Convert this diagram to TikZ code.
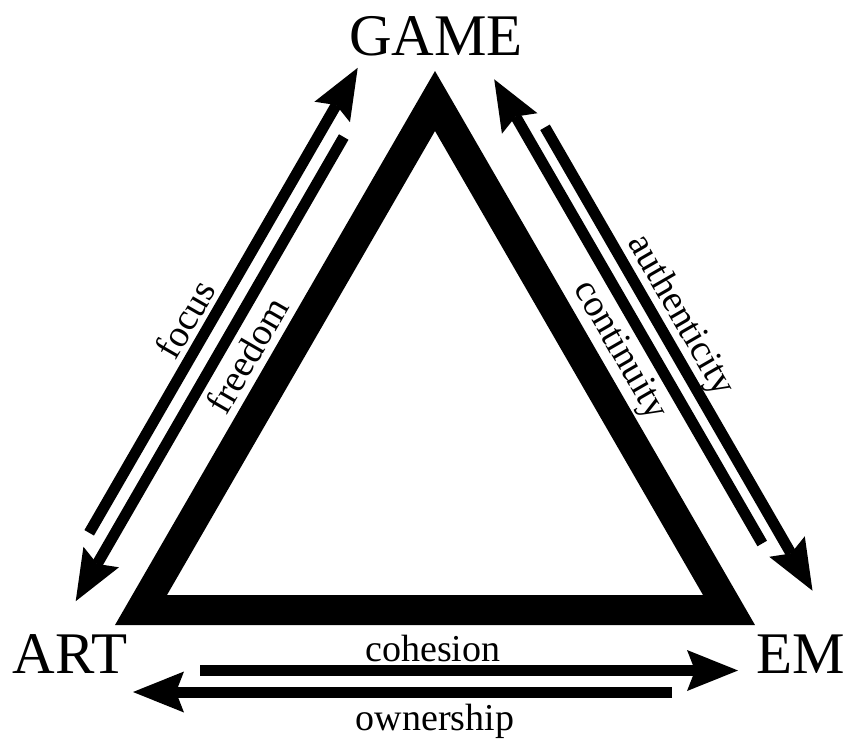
\documentclass[tikz,border=0pt]{standalone}
\usepackage{fontspec}
\setmainfont{Liberation Serif}
\usetikzlibrary{arrows.meta}
\tikzset{
  tri/.style={line width=30pt, line join=miter},
  rel/.style={line width=11pt, -{Stealth[length=51pt,width=41pt,inset=8pt,line width=0pt]}},
  corner/.style={inner sep=0pt, font=\fontsize{59}{59}\selectfont, anchor=base},
  lbl/.style={inner sep=0pt, font=\fontsize{38}{38}\selectfont},
}
\begin{document}
\begin{tikzpicture}[x=1pt,y=-1pt]
\useasboundingbox (0,0) rectangle (845,739);
% triangle vertices (stroke centre line)
\coordinate (A) at (141,610);
\coordinate (E) at (729,610);
\coordinate (G) at (435,101);
\draw[tri] (A) -- (E) -- (G) -- cycle;
% corner labels
\node[corner] (game) at (436,55) {GAME};
\node[corner] (art) at (70,673) {ART};
\node[corner] (em) at (801,673) {EM};
% arrow end points
\coordinate (focusS) at (89.2,532.8);
\coordinate (focusT) at (357.7,67.8);
\coordinate (freeS) at (343.7,137);
\coordinate (freeT) at (75.7,601.2);
\coordinate (contS) at (762.2,543.5);
\coordinate (contT) at (494.2,79.3);
\coordinate (authS) at (545,127.3);
\coordinate (authT) at (812.5,590.7);
\coordinate (cohS) at (200,670.5);
\coordinate (cohT) at (738,670.5);
\coordinate (ownS) at (672,692);
\coordinate (ownT) at (133,692);
% arrows
\draw[rel] (focusS) -- (focusT);
\draw[rel] (freeS) -- (freeT);
\draw[rel] (contS) -- (contT);
\draw[rel] (authS) -- (authT);
\draw[rel] (cohS) -- (cohT);
\draw[rel] (ownS) -- (ownT);
% labels
\node[lbl, rotate=60] (focus) at (185,319) {focus};
\node[lbl, rotate=60] (freedom) at (247,355) {freedom};
\node[lbl, rotate=-60] (continuity) at (619,351) {continuity};
\node[lbl, rotate=-60] (authenticity) at (680,316) {authenticity};
\node[lbl, anchor=base] (cohesion) at (433,661) {cohesion};
\node[lbl, anchor=base] (ownership) at (435,730) {ownership};
\end{tikzpicture}
\end{document}
